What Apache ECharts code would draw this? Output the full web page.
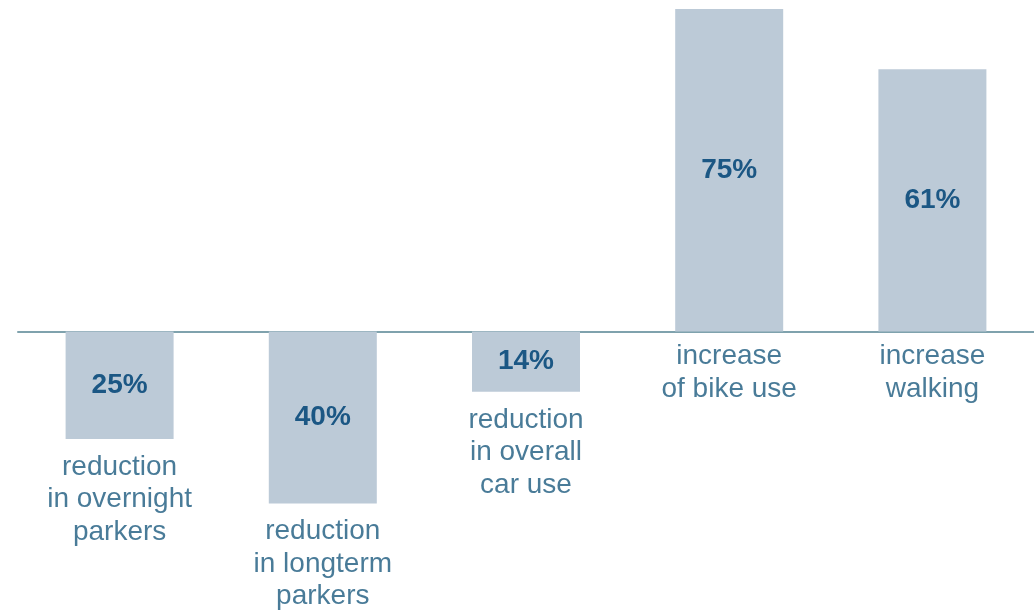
<!DOCTYPE html>
<html>
<head>
<meta charset="utf-8">
<script src="https://cdn.jsdelivr.net/npm/echarts@6/dist/echarts.min.js"></script>
<style>
html,body{margin:0;padding:0;background:#fff;}
#main{width:1034px;height:611px;}
</style>
</head>
<body>
<div id="main"></div>
<script>
const categories = [
  "reduction\nin overnight\nparkers",
  "reduction\nin longterm\nparkers",
  "reduction\nin overall\ncar use",
  "increase\nof bike use",
  "increase\nwalking"
];
const values = [-25, -40, -14, 75, 61];
const valueLabels = ["25%", "40%", "14%", "75%", "61%"];

const chart = echarts.init(document.getElementById('main'));
chart.setOption({
  animation: false,
  backgroundColor: '#ffffff',
  grid: { left: 18, right: -2, top: 9, bottom: 0, containLabel: false },
  xAxis: {
    type: 'category',
    data: categories,
    axisLine: { onZero: true, lineStyle: { color: '#7fa2ad', width: 2 } },
    axisTick: { show: false },
    axisLabel: { show: false },
    splitLine: { show: false }
  },
  yAxis: {
    type: 'value',
    min: -65,
    max: 75,
    show: false,
    splitLine: { show: false }
  },
  series: [
    {
      type: 'bar',
      data: values,
      barWidth: 108,
      itemStyle: { color: '#bccad7' },
      label: {
        show: true,
        position: 'inside',
        formatter: p => valueLabels[p.dataIndex],
        color: '#1b5784',
        fontFamily: 'Liberation Sans, Arial, sans-serif',
        fontWeight: 'bold',
        fontSize: 28
      }
    },
    {
      type: 'scatter',
      data: values.map((v, i) => ({
        value: [i, Math.min(v, 0)],
        label: { distance: v < 0 ? 12 : 9 }
      })),
      symbolSize: 0,
      silent: true,
      label: {
        show: true,
        position: 'bottom',
        formatter: p => categories[p.dataIndex],
        color: '#1c5a7e',
        fontFamily: 'Liberation Sans, Arial, sans-serif',
        fontSize: 28,
        lineHeight: 32.5,
        align: 'center'
      }
    }
  ]
});
</script>
</body>
</html>
